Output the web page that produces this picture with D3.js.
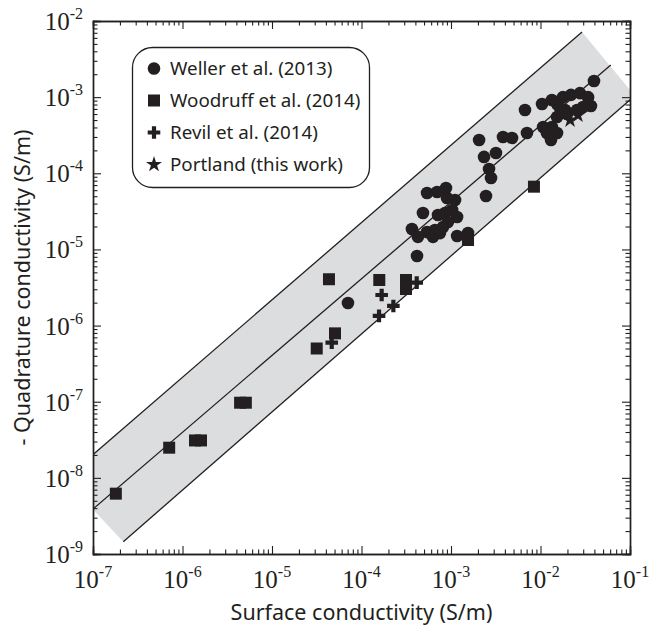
<!DOCTYPE html>
<html>
<head>
<meta charset="utf-8">
<script src="https://cdn.jsdelivr.net/npm/d3@7"></script>
<style>
  html, body { margin: 0; padding: 0; background: #fff; }
  svg { display: block; }
</style>
</head>
<body>
<svg id="chart" width="652" height="629"></svg>
<script>
// ---- data -------------------------------------------------------------
// Surface conductivity (S/m) vs. quadrature conductivity (S/m)
const wellerX = [0.0396, 0.00671, 0.0104, 0.0134, 0.0153, 0.0178, 0.0219, 0.0276, 0.0340, 0.0366,
  0.0299, 0.0256, 0.0188, 0.0153, 0.0134, 0.0107, 0.0118, 0.0153, 0.0131, 0.00706,
  0.00481, 0.00381, 0.00206, 0.00234, 0.00318, 0.00266, 0.00280, 0.00246, 5.40e-4, 6.99e-4,
  8.79e-4, 1.11e-3, 9.02e-4, 1.03e-3, 1.17e-3, 8.57e-4, 7.16e-4, 9.24e-4, 8.15e-4, 6.62e-4,
  5.40e-4, 3.66e-4, 4.27e-4, 6.29e-4, 7.53e-4, 4.86e-4, 1.17e-3, 1.55e-3, 4.17e-4, 7.06e-5,
  0.0198, 0.0165];
const wellerY = [1.63e-3, 6.78e-4, 8.13e-4, 9.17e-4, 8.13e-4, 1.00e-3, 1.07e-3, 1.13e-3, 1.00e-3, 7.65e-4,
  7.41e-4, 6.78e-4, 6.78e-4, 5.48e-4, 4.06e-4, 4.06e-4, 3.38e-4, 3.38e-4, 2.74e-4, 3.38e-4,
  2.91e-4, 2.99e-4, 2.74e-4, 1.64e-4, 1.85e-4, 1.14e-4, 8.67e-5, 5.04e-5, 5.51e-5, 5.68e-5,
  6.41e-5, 4.46e-5, 4.73e-5, 3.30e-5, 2.67e-5, 3.01e-5, 2.83e-5, 2.29e-5, 1.97e-5, 1.80e-5,
  1.69e-5, 1.85e-5, 1.46e-5, 1.46e-5, 1.64e-5, 3.01e-5, 1.50e-5, 1.64e-5, 8.20e-6, 1.98e-6,
  6.01e-4, 7.20e-4];

const woodruffX = [1.8e-7, 7.1e-7, 1.38e-6, 1.61e-6, 4.4e-6, 5.1e-6, 3.16e-5, 5.06e-5, 4.33e-5,
  1.58e-4, 3.14e-4, 3.14e-4, 1.55e-3, 8.45e-3];
const woodruffY = [6.2e-9, 2.49e-8, 3.1e-8, 3.1e-8, 9.7e-8, 9.7e-8, 5.0e-7, 7.9e-7, 4.06e-6,
  3.97e-6, 3.97e-6, 3.02e-6, 1.33e-5, 6.67e-5];

const revilX = [1.68e-4, 2.27e-4, 1.57e-4, 4.14e-4, 4.65e-5];
const revilY = [2.52e-6, 1.81e-6, 1.34e-6, 3.66e-6, 5.96e-7];

const portlandX = [0.0214, 0.0262];
const portlandY = [5.0e-4, 5.8e-4];

// Trend line and its envelope (end points in S/m)
const upperLine = [[4.81e-8, 9.6e-9], [0.0291, 0.00718]];
const middleLine = [[1e-7, 3.9e-9], [0.0610, 0.00264]];
const lowerLine = [[2.18e-7, 1.45e-9], [0.113, 1.045e-3]];
const envelope = [[4.81e-8, 9.6e-9], [0.0291, 0.00718], [0.113, 1.045e-3], [2.18e-7, 1.45e-9]];

const xDecades = [-7, -6, -5, -4, -3, -2, -1];
const yDecades = [-9, -8, -7, -6, -5, -4, -3, -2];

const legendLabels = ["Weller et al. (2013)", "Woodruff et al. (2014)", "Revil et al. (2014)", "Portland (this work)"];
const xTitle = "Surface conductivity (S/m)";
const yTitle = "- Quadrature conductivity (S/m)";

// ---- layout -----------------------------------------------------------
const INK = "#231f20";
const BAND = "#dcddde";
const pL = 93, pR = 630, pT = 21, pB = 554;

const svg = d3.select("#chart");
svg.append("rect").attr("width", 652).attr("height", 629).attr("fill", "#fff");

const x = d3.scaleLog().domain([1e-7, 1e-1]).range([pL, pR]);
const y = d3.scaleLog().domain([1e-9, 1e-2]).range([pB, pT]);

svg.append("defs").append("clipPath").attr("id", "plotClip")
  .append("rect").attr("x", pL).attr("y", pT).attr("width", pR - pL).attr("height", pB - pT);

const plot = svg.append("g").attr("clip-path", "url(#plotClip)");

// envelope band
const lineGen = d3.line().x(d => x(d[0])).y(d => y(d[1]));
plot.append("path").attr("d", lineGen(envelope) + "Z").attr("fill", BAND);

// trend lines
[upperLine, middleLine, lowerLine].forEach(l => {
  plot.append("path").attr("d", lineGen(l)).attr("fill", "none")
    .attr("stroke", INK).attr("stroke-width", 1.3);
});

// markers
const sym = {
  circle: d3.symbol().type(d3.symbolCircle).size(125),
  square: d3.symbol().type(d3.symbolSquare).size(144),
  cross: d3.symbol().type(d3.symbolCross).size(88),
  star: d3.symbol().type(d3.symbolStar).size(80)
};
function drawSeries(xs, ys, path) {
  plot.append("g").selectAll("path").data(xs.map((v, i) => [v, ys[i]])).join("path")
    .attr("transform", d => `translate(${x(d[0])},${y(d[1])})`)
    .attr("d", path).attr("fill", INK);
}
drawSeries(woodruffX, woodruffY, sym.square);
drawSeries(wellerX, wellerY, sym.circle);
drawSeries(revilX, revilY, sym.cross);
drawSeries(portlandX, portlandY, sym.star);

// ---- axes (ticks point inward, log minor ticks) ------------------------
function logTicks(decs) {
  const major = decs.map(d => Math.pow(10, d));
  const minor = [];
  for (let i = 0; i < decs.length - 1; i++)
    for (let k = 2; k <= 9; k++) minor.push(k * Math.pow(10, decs[i]));
  return { major, minor };
}
const xt = logTicks(xDecades), yt = logTicks(yDecades);

function addAxis(axisFn, scale, ticks, tx, ty) {
  const g1 = svg.append("g").attr("transform", `translate(${tx},${ty})`)
    .call(axisFn(scale).tickValues(ticks.major).tickSize(-8).tickFormat(""));
  const g2 = svg.append("g").attr("transform", `translate(${tx},${ty})`)
    .call(axisFn(scale).tickValues(ticks.minor).tickSize(-4.5).tickFormat(""));
  [g1, g2].forEach(g => {
    g.selectAll("line").attr("stroke", INK).attr("stroke-width", 1.1);
    g.select(".domain").attr("stroke", INK).attr("stroke-width", 1.4);
  });
}
addAxis(d3.axisBottom, x, xt, 0, pB);
addAxis(d3.axisTop, x, xt, 0, pT);
addAxis(d3.axisLeft, y, yt, pL, 0);
addAxis(d3.axisRight, y, yt, pR, 0);

// tick labels: 10 with superscript exponent
function powLabel(sel, exp) {
  sel.append("tspan").text("10");
  sel.append("tspan").attr("dy", -11).attr("font-size", 16).text(String(exp));
}
const serif = "'Liberation Serif', 'Times New Roman', serif";
svg.append("g").selectAll("text").data(xDecades).join("text")
  .attr("x", d => x(Math.pow(10, d)))
  .attr("y", pB + 34)
  .attr("text-anchor", "middle")
  .attr("font-family", serif).attr("font-size", 25).attr("fill", INK)
  .each(function (d) { powLabel(d3.select(this), d); });

svg.append("g").selectAll("text").data(yDecades).join("text")
  .attr("x", 83)
  .attr("y", d => y(Math.pow(10, d)) + 9)
  .attr("text-anchor", "end")
  .attr("font-family", serif).attr("font-size", 25).attr("fill", INK)
  .each(function (d) { powLabel(d3.select(this), d); });

// axis titles
const sans = "'Noto Sans', 'Open Sans', sans-serif";
svg.append("text").attr("x", (pL + pR) / 2).attr("y", 620)
  .attr("text-anchor", "middle").attr("font-family", sans).attr("font-size", 21.5)
  .attr("fill", INK).text(xTitle);
svg.append("text")
  .attr("transform", `translate(30,${(pT + pB) / 2}) rotate(-90)`)
  .attr("text-anchor", "middle").attr("font-family", sans).attr("font-size", 21.5)
  .attr("fill", INK).text(yTitle);

// ---- legend -------------------------------------------------------------
const legend = svg.append("g");
legend.append("rect").attr("x", 132.5).attr("y", 47.5).attr("width", 237).attr("height", 140)
  .attr("rx", 20).attr("ry", 20).attr("fill", "#fff").attr("stroke", INK).attr("stroke-width", 1.3);
const legendSyms = [sym.circle, sym.square, sym.cross, sym.star];
legendLabels.forEach((t, i) => {
  const cy = 68.5 + i * 32;
  legend.append("path").attr("transform", `translate(154,${cy})`).attr("d", legendSyms[i]).attr("fill", INK);
  legend.append("text").attr("x", 170).attr("y", cy + 6.5).attr("font-family", sans)
    .attr("font-size", 18.8).attr("fill", INK).text(t);
});
</script>
</body>
</html>
